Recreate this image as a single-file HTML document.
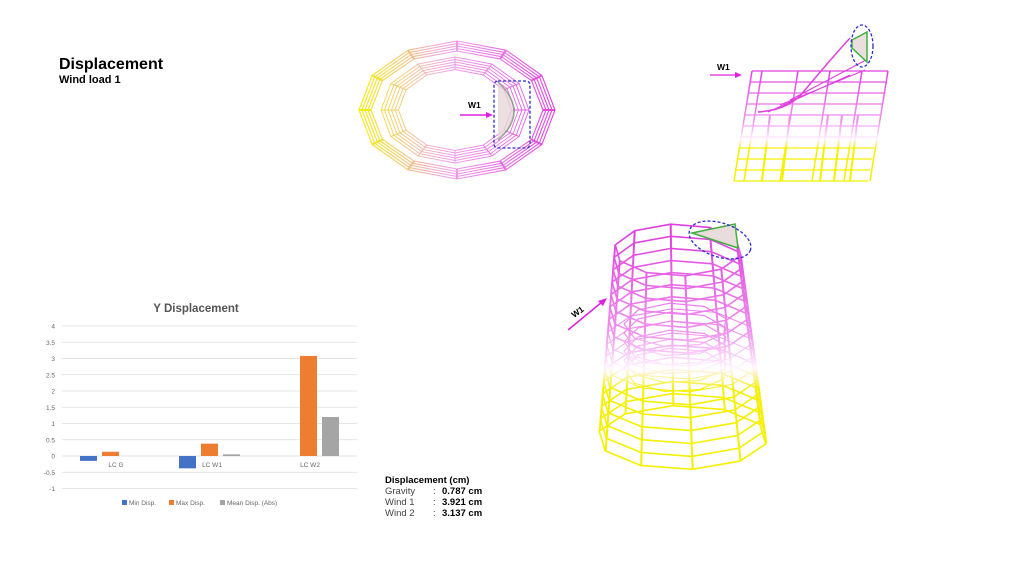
<!DOCTYPE html>
<html><head><meta charset="utf-8"><style>
body{margin:0;width:1024px;height:576px;background:#fff;overflow:hidden;font-family:"Liberation Sans",sans-serif;position:relative}
.t{position:absolute;color:#000}
.r{position:relative;height:11px;white-space:nowrap}
</style></head><body>
<div class="t" style="left:59px;top:56px;font-size:16px;font-weight:bold">Displacement</div>
<div class="t" style="left:59px;top:74px;font-size:11px;font-weight:bold">Wind load 1</div>
<div class="t" style="left:385px;top:475px;font-size:9.5px;line-height:11px;width:120px">
<div class="r"><b>Displacement (cm)</b></div>
<div class="r"><span style="color:#444">Gravity</span><span style="position:absolute;left:48px;color:#444">:</span><b style="position:absolute;left:57px">0.787 cm</b></div>
<div class="r"><span style="color:#444">Wind 1</span><span style="position:absolute;left:48px;color:#444">:</span><b style="position:absolute;left:57px">3.921 cm</b></div>
<div class="r"><span style="color:#444">Wind 2</span><span style="position:absolute;left:48px;color:#444">:</span><b style="position:absolute;left:57px">3.137 cm</b></div></div>
<svg id="s" width="1024" height="576" style="position:absolute;left:0;top:0" font-family="Liberation Sans, sans-serif">
<defs>
<linearGradient id="gh" x1="358" x2="556" y1="0" y2="0" gradientUnits="userSpaceOnUse"><stop offset="0" stop-color="#f5f000"/><stop offset="0.45" stop-color="#f0a0e8"/><stop offset="1" stop-color="#e040e0"/></linearGradient>
<linearGradient id="gv" x1="0" x2="0" y1="235" y2="450" gradientUnits="userSpaceOnUse"><stop offset="0" stop-color="#e040e0"/><stop offset="0.45" stop-color="#f090ee"/><stop offset="0.62" stop-color="#fff4ff"/><stop offset="0.72" stop-color="#f5f000"/><stop offset="1" stop-color="#f5f000"/></linearGradient>
<linearGradient id="gs" x1="0" x2="0" y1="70" y2="182" gradientUnits="userSpaceOnUse"><stop offset="0" stop-color="#e040e0"/><stop offset="0.45" stop-color="#f090ee"/><stop offset="0.62" stop-color="#fff0ff"/><stop offset="0.7" stop-color="#f5f000"/><stop offset="1" stop-color="#f5f000"/></linearGradient>
</defs>
<g id="chart" font-size="6.5" fill="#666"></g>
<g id="top"></g><g id="iso"></g><g id="side"></g>
</svg>
<script>
const NS="http://www.w3.org/2000/svg";
function el(p,t,a,txt){const e=document.createElementNS(NS,t);for(const k in a)e.setAttribute(k,a[k]);if(txt!==undefined)e.textContent=txt;document.getElementById(p).appendChild(e);return e;}
const y0=456,u=32.5;
el('chart','text',{x:196,y:312,'font-size':11.5,'font-weight':'bold',fill:'#555','text-anchor':'middle'},'Y Displacement');
for(let v=-1;v<=4;v+=0.5){const y=y0-v*u;el('chart','line',{x1:62,x2:357,y1:y,y2:y,stroke:'#ddd','stroke-width':0.7});el('chart','text',{x:55,y:y+2.5,'text-anchor':'end'},String(v));}
const bars=[[80,-0.15,'#4472c4'],[102,0.13,'#ed7d31'],[179,-0.38,'#4472c4'],[201,0.38,'#ed7d31'],[223,0.05,'#a5a5a5'],[300,3.08,'#ed7d31'],[322,1.2,'#a5a5a5']];
bars.forEach(b=>{const h=b[1]*u;el('chart','rect',{x:b[0],y:h>0?y0-h:y0,width:17,height:Math.abs(h),fill:b[2]});});
[['LC G',116],['LC W1',212],['LC W2',310]].forEach(l=>el('chart','text',{x:l[1],y:467,'text-anchor':'middle'},l[0]));
[[122,'#4472c4','Min Disp.'],[169,'#ed7d31','Max Disp.'],[220,'#a5a5a5','Mean Disp. (Abs)']].forEach(l=>{el('chart','rect',{x:l[0],y:500,width:5,height:5,fill:l[1]});el('chart','text',{x:l[0]+7,y:505},l[2]);});
function poly(g,cx,cy,rx,ry,n,rot,st,w){let p=[];for(let i=0;i<n;i++){const a=rot+i*2*Math.PI/n;p.push((cx+rx*Math.cos(a)).toFixed(1)+','+(cy+ry*Math.sin(a)).toFixed(1));}el(g,'polygon',{points:p.join(' '),fill:'none',stroke:st,'stroke-width':w||1});return p;}
for(let i=0;i<5;i++){poly('top',457,110,98-i*3,69-i*2.5,12,0,'url(#gh)',1.1);}
for(let i=0;i<6;i++){poly('top',455,110,74-i*3.5,53-i*2.5,12,0,'url(#gh)',0.9);}
for(let k=0;k<12;k++){const a=k*Math.PI/6;el('top','line',{x1:457+86*Math.cos(a),y1:110+59*Math.sin(a),x2:457+98*Math.cos(a),y2:110+69*Math.sin(a),stroke:'url(#gh)','stroke-width':2});el('top','line',{x1:455+56*Math.cos(a),y1:110+40*Math.sin(a),x2:455+74*Math.cos(a),y2:110+53*Math.sin(a),stroke:'url(#gh)','stroke-width':1});}
el('top','path',{d:'M498,82 Q530,112 498,140',fill:'#e8d8d8',stroke:'#7a9a7a','stroke-width':1.5,opacity:0.8});
el('top','rect',{x:494,y:81,width:36,height:67,rx:4,fill:'none',stroke:'#2b2bd0','stroke-width':1.3,'stroke-dasharray':'3,2'});
el('top','line',{x1:460,y1:115,x2:488,y2:115,stroke:'#e020e0','stroke-width':1.5});
el('top','polygon',{points:'493,115 486,112 486,118',fill:'#e020e0'});
el('top','text',{x:468,y:108,'font-size':8.5,'font-weight':'bold',fill:'#000'},'W1');
for(let i=0;i<16;i++){const y=250+i*12.5,rx=64+i*1.4,ry=26+i*0.4;poly('iso',678+i*0.3,y,rx,ry,10,0.2,'url(#gv)',i<7||i>9?1.6:1);}
for(let i=0;i<6;i++){poly('iso',676,325+i*9,52,22,9,0.4,'url(#gv)',1.2);}
for(let k=0;k<10;k++){const a=0.2+k*2*Math.PI/10;el('iso','line',{x1:678+64*Math.cos(a),y1:250+26*Math.sin(a),x2:683+85*Math.cos(a),y2:437+32*Math.sin(a),stroke:'url(#gv)','stroke-width':2});}
el('iso','path',{d:'M692,233 L735,224 L738,248 Z',fill:'#e8dcdc',stroke:'#40b040','stroke-width':1.5});
el('iso','ellipse',{cx:720,cy:240,rx:32,ry:17,transform:'rotate(18 720 240)',fill:'none',stroke:'#2b2bd0','stroke-width':1.3,'stroke-dasharray':'3,2'});
el('iso','line',{x1:568,y1:330,x2:602,y2:302,stroke:'#e020e0','stroke-width':1.5});
el('iso','polygon',{points:'607,298 598,301 603,306',fill:'#e020e0'});
el('iso','text',{x:574,y:318,'font-size':8.5,'font-weight':'bold',fill:'#000',transform:'rotate(-35 574 318)'},'W1');
for(let i=0;i<11;i++){const y=71+i*11;el('side','line',{x1:752-i*1.8,y1:y,x2:888-i*2,y2:y,stroke:'url(#gs)','stroke-width':1.2});}
[752,762,798,830,862,888].forEach(x=>el('side','line',{x1:x,y1:71,x2:x-18,y2:181,stroke:'url(#gs)','stroke-width':1.5}));
[770,790,828,842,858].forEach(x=>el('side','line',{x1:x,y1:115,x2:x-8,y2:181,stroke:'url(#gs)','stroke-width':2}));
el('side','path',{d:'M758,112 Q790,110 805,90 Q830,60 850,38',fill:'none',stroke:'#e040e0','stroke-width':1.5});
el('side','path',{d:'M768,112 L850,75 M780,105 L865,70 M790,100 L866,60',fill:'none',stroke:'#e040e0','stroke-width':1});
el('side','path',{d:'M852,40 L867,32 L867,62 L852,48 Z',fill:'#eadede',stroke:'#40b040','stroke-width':1.5});
el('side','ellipse',{cx:862,cy:46,rx:11,ry:21,fill:'none',stroke:'#2b2bd0','stroke-width':1.3,'stroke-dasharray':'3,2'});
el('side','line',{x1:710,y1:75,x2:737,y2:75,stroke:'#e020e0','stroke-width':1.3});
el('side','polygon',{points:'742,75 735,72 735,78',fill:'#e020e0'});
el('side','text',{x:717,y:70,'font-size':8.5,'font-weight':'bold',fill:'#000'},'W1');
</script>
</body></html>
